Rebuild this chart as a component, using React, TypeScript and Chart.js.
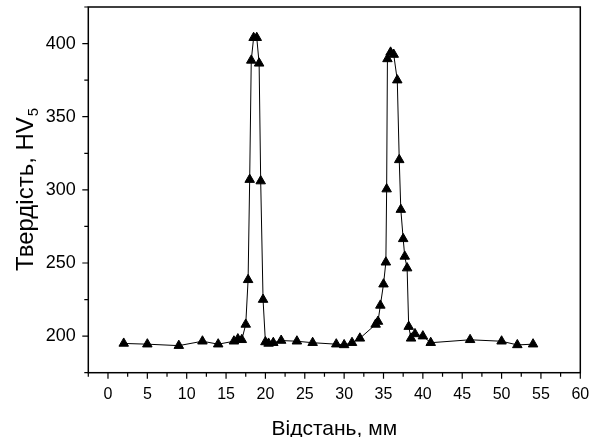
import React, { useEffect, useRef } from "react";
import { Chart, registerables } from "chart.js";

Chart.register(...registerables);

// Distance, mm
const distance = [
  2, 5, 9, 12, 14, 16, 16.5, 17, 17.5, 17.8, 18, 18.2, 18.5, 18.9, 19.2, 19.4, 19.7, 20, 20.4, 21, 22, 24, 26,
  29, 30, 31, 32, 34, 34.3, 34.6, 35, 35.3, 35.4, 35.5, 35.9, 36.3, 36.75, 37, 37.2, 37.5, 37.7, 38, 38.2,
  38.5, 39, 40, 41, 46, 50, 52, 54,
];
// Hardness, HV5
const hardness = [
  195, 194.5, 193.5, 196.5, 194.5, 196.5, 198, 197.5, 208, 238.5, 307, 388.5, 404, 404, 386.5, 306, 225, 196,
  195, 195.5, 197, 196.5, 195.5, 194.5, 194, 195.5, 198.5, 208, 210, 221, 235.5, 250.5, 300.5, 389.5, 394,
  392.5, 375, 320.5, 286.5, 266.5, 254.5, 246.5, 206.5, 198.5, 201.5, 200, 195.5, 197.5, 196.5, 194, 194.5,
];

const xMajorTicks = [0, 5, 10, 15, 20, 25, 30, 35, 40, 45, 50, 55, 60];
const yMajorTicks = [200, 250, 300, 350, 400];
const xMinorStep = 2.5;
const yMinorStep = 25;

const xTitle = "Відстань, мм";
const yTitleMain = "Твердість, HV";
const yTitleSub = "5";

const FONT = '"Liberation Sans", Arial, sans-serif';

function zeroPad(s: any) {
  s.paddingTop = 0;
  s.paddingBottom = 0;
  s.paddingLeft = 0;
  s.paddingRight = 0;
}

export default function App() {
  const ref = useRef<HTMLCanvasElement>(null);

  useEffect(() => {
    const canvas = ref.current;
    if (!canvas) return;

    const framePlugin = {
      id: "frameAndTitles",
      afterDraw(chart: any) {
        const { ctx, chartArea: a, scales } = chart;
        const xs = scales.x;
        const ys = scales.y;
        ctx.save();
        ctx.strokeStyle = "#000";
        ctx.lineWidth = 1.5;
        ctx.strokeRect(a.left, a.top, a.right - a.left, a.bottom - a.top);

        ctx.lineWidth = 1.2;
        ctx.beginPath();
        for (let v = xs.min; v <= xs.max + 1e-9; v += xMinorStep) {
          const px = xs.getPixelForValue(v);
          const major = xMajorTicks.some((t) => Math.abs(t - v) < 1e-6);
          const len = major ? 6 : 4;
          ctx.moveTo(px, a.bottom);
          ctx.lineTo(px, a.bottom + len);
        }
        for (let v = ys.min; v <= ys.max + 1e-9; v += yMinorStep) {
          const py = ys.getPixelForValue(v);
          const major = yMajorTicks.some((t) => Math.abs(t - v) < 1e-6);
          const len = major ? 6 : 4;
          ctx.moveTo(a.left, py);
          ctx.lineTo(a.left - len, py);
        }
        ctx.stroke();

        // X title
        ctx.fillStyle = "#000";
        ctx.font = `21px ${FONT}`;
        ctx.textAlign = "center";
        ctx.textBaseline = "alphabetic";
        ctx.fillText(xTitle, (a.left + a.right) / 2, 435);

        // Y title with subscript
        const cy = (a.top + a.bottom) / 2;
        const mainSize = 24;
        const subSize = 15;
        ctx.font = `${mainSize}px ${FONT}`;
        const wMain = ctx.measureText(yTitleMain).width;
        ctx.font = `${subSize}px ${FONT}`;
        const wSub = ctx.measureText(yTitleSub).width;
        const total = wMain + wSub;
        ctx.translate(33, cy);
        ctx.rotate(-Math.PI / 2);
        ctx.textAlign = "left";
        ctx.font = `${mainSize}px ${FONT}`;
        ctx.fillText(yTitleMain, -total / 2, 0);
        ctx.font = `${subSize}px ${FONT}`;
        ctx.fillText(yTitleSub, -total / 2 + wMain + 1, 5);
        ctx.restore();
      },
    };

    const chart = new Chart(canvas, {
      type: "line",
      data: {
        datasets: [
          {
            data: distance.map((x, i) => ({ x, y: hardness[i] })),
            borderColor: "#000",
            borderWidth: 1,
            pointStyle: "triangle",
            pointRadius: 5.5,
            pointHoverRadius: 5.5,
            pointBackgroundColor: "#000",
            pointBorderColor: "#000",
            pointBorderWidth: 1,
            tension: 0,
            fill: false,
          },
        ],
      },
      options: {
        animation: false,
        responsive: false,
        devicePixelRatio: 1,
        layout: { padding: { top: 7, right: 9.7, left: 0, bottom: 0 } },
        plugins: { legend: { display: false }, tooltip: { enabled: false } },
        scales: {
          x: {
            type: "linear",
            min: -2.5,
            max: 60,
            afterBuildTicks: (s: any) => {
              s.ticks = xMajorTicks.map((v) => ({ value: v }));
            },
            afterFit: (s: any) => {
              s.height = 64.3;
              zeroPad(s);
            },
            ticks: {
              font: { family: FONT, size: 16 },
              color: "#000",
              padding: 12,
              maxRotation: 0,
              autoSkip: false,
            },
            grid: { display: false, drawTicks: false },
            border: { display: false },
          },
          y: {
            type: "linear",
            min: 175,
            max: 425,
            afterBuildTicks: (s: any) => {
              s.ticks = yMajorTicks.map((v) => ({ value: v }));
            },
            afterFit: (s: any) => {
              s.width = 88.3;
              zeroPad(s);
            },
            ticks: {
              font: { family: FONT, size: 18 },
              color: "#000",
              padding: 12.5,
              autoSkip: false,
            },
            grid: { display: false, drawTicks: false },
            border: { display: false },
          },
        },
      },
      plugins: [framePlugin],
    });

    return () => chart.destroy();
  }, []);

  return (
    <div style={{ position: "fixed", left: 0, top: 0, width: 590, height: 437, background: "#fff" }}>
      <canvas ref={ref} width={590} height={437} style={{ display: "block" }} />
    </div>
  );
}
